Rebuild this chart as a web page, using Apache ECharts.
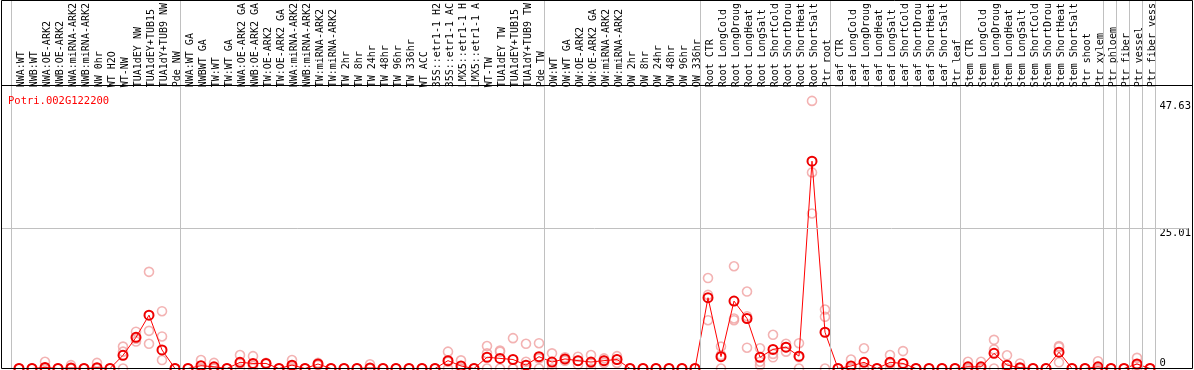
<!DOCTYPE html>
<html><head><meta charset="utf-8">
<script src="https://cdn.jsdelivr.net/npm/echarts@6/dist/echarts.min.js"></script>
<style>html,body{margin:0;padding:0;background:#fff}#c{width:1194px;height:370px}</style>
</head><body><div id="c"></div>
<script>
const chartTitle = 'Potri.002G122200';
const categories = [
  'NWA:WT','NWB:WT','NWA:OE-ARK2','NWB:OE-ARK2','NWA:miRNA-ARK2','NWB:miRNA-ARK2','NW 0hr','WT H2O','WT-NW','TUA1dEY NW','TUA1dEY+TUB15','TUA1dY+TUB9 NW','Pde NW',
  'NWA:WT GA','NWBWT GA','TW:WT','TW:WT GA','NWA:OE-ARK2 GA','NWB:OE-ARK2 GA','TW:OE-ARK2','TW:OE-ARK2 GA','NWA:miRNA-ARK2','NWB:miRNA-ARK2','TW:miRNA-ARK2','TW:miRNA-ARK2',
  'TW 2hr','TW 8hr','TW 24hr','TW 48hr','TW 96hr','TW 336hr','WT ACC','35S::etr1-1 H2','35S::etr1-1 AC','LMX5::etr1-1 H','LMX5::etr1-1 A','WT-TW','TUA1dEY TW','TUA1dEY+TUB15','TUA1dY+TUB9 TW','Pde TW',
  'OW:WT','OW:WT GA','OW:OE-ARK2','OW:OE-ARK2 GA','OW:miRNA-ARK2','OW:miRNA-ARK2','OW 2hr','OW 8hr','OW 24hr','OW 48hr','OW 96hr','OW 336hr',
  'Root CTR','Root LongCold','Root LongDroug','Root LongHeat','Root LongSalt','Root ShortCold','Root ShortDrou','Root ShortHeat','Root ShortSalt','Ptr root',
  'Leaf CTR','Leaf LongCold','Leaf LongDroug','Leaf LongHeat','Leaf LongSalt','Leaf ShortCold','Leaf ShortDrou','Leaf ShortHeat','Leaf ShortSalt','Ptr leaf',
  'Stem CTR','Stem LongCold','Stem LongDroug','Stem LongHeat','Stem LongSalt','Stem ShortCold','Stem ShortDrou','Stem ShortHeat','Stem ShortSalt','Ptr shoot',
  'Ptr xylem','Ptr phloem','Ptr fiber','Ptr vessel','Ptr fiber vess'
];
const meanValues = [
  0,0,0.2,0,0.1,0,0.15,0,2.35,5.55,9.5,3.3,0,
  0,0.5,0.3,0,1.1,0.9,0.9,0,0.6,0,0.8,0,
  0,0,0.1,0,0,0,0,0,1.4,0.45,0,2.0,1.8,1.6,0.6,2.1,
  1.15,1.7,1.4,1.15,1.4,1.6,0,0,0,0,0,0,
  12.6,2.1,12.0,8.9,2.0,3.4,3.8,2.2,36.9,6.45,
  0,0.45,1.1,0,1.1,0.9,0,0,0,0,
  0.3,0.3,2.7,0.6,0.15,0,0,2.9,0,0,
  0.3,0,0,0.8,0
];
const rep1 = [
  0,0,1.2,0,0.6,0,1.0,0,3.9,6.55,17.2,10.2,0,
  0,1.5,1.0,0,2.4,2.2,1.0,0,1.5,0,1.0,0,
  0,0,0.75,0,0,0,0,0,3.0,1.45,0,4.0,3.2,5.4,4.4,4.5,
  2.7,2.0,2.1,2.4,1.8,2.2,0,0,0,0,0,0,
  16.1,3.9,18.2,13.7,3.6,6.0,4.4,4.5,47.63,10.5,
  0,1.6,3.6,0,2.4,3.1,0,0,0,0,
  1.2,1.2,5.1,2.35,0.9,0,0,4.0,0,0,
  1.3,0,0,1.9,0
];
const rep2 = [
  0,0,0,0,0,0,0,0,3.0,5.3,6.7,5.7,0,
  0,0,0,0,0.9,0.5,0.9,0,0.3,0,0.8,0,
  0,0,0,0,0,0,0,0,1.2,0,0,2.7,3.0,0,1.2,1.8,
  0.7,1.7,1.4,1.0,1.4,1.6,0,0,0,0,0,0,
  13.1,2.4,8.9,9.3,1.2,2.6,3.8,2.0,34.9,9.2,
  0,0,0,0,0.9,0,0,0,0,0,
  0,0,3.4,0,0,0,0,3.8,0,0,
  0,0,0,0.6,0
];
const rep3 = [
  0,0,0,0,0,0,0,0,0,4.8,4.4,1.5,0,
  0,0,0,0,0,0,0.8,0,0,0,0.6,0,
  0,0,0,0,0,0,0,0,0,0,0,0,0,0,0,0,
  0,1.4,0.7,0,1.0,1.0,0,0,0,0,0,0,
  8.6,0,8.6,3.7,0.6,2.0,3.0,0,27.6,0,
  0,0,0,0,0,0,0,0,0,0,
  0,0,0,0,0,0,0,1.1,0,0,
  0,0,0,0,0
];
const groupBoundaries = [0,13,41,53,63,73,84,85,86,87,88];
const yTickValues = [0, 25.01, 47.63];
const yGuideValue = 25.01;

const YMAX = 50.46;
const chart = echarts.init(document.getElementById('c'), null, {renderer:'canvas'});
const mono = 'DejaVu Sans Mono';
const repStyle = {color:'rgba(0,0,0,0)', borderColor:'#f0a0a0', borderWidth:1.6};
function repSeries(arr){
  return {type:'scatter', xAxisIndex:0, yAxisIndex:0, data:arr, symbol:'circle', symbolSize:9,
    itemStyle:repStyle, silent:true, z:2};
}
chart.setOption({
  animation:false,
  title:{text:chartTitle, left:3, top:91, textStyle:{color:'#ff0000', fontSize:10.5, fontFamily:mono, fontWeight:'normal'}},
  grid:[
    {left:12.5, top:85, width:1144, height:283.5},
    {left:11.5, top:0, width:1144, height:368.5},
    {left:1, top:85, width:1191.5, height:283.5},
    {left:15, top:85, width:1144, height:283.5}
  ],
  xAxis:[
    {gridIndex:0, type:'category', data:categories, boundaryGap:true, show:false},
    {gridIndex:1, type:'value', min:0, max:88, show:false},
    {gridIndex:2, type:'value', min:0, max:1, show:false},
    {gridIndex:3, type:'category', data:categories, position:'top', boundaryGap:true,
      axisLine:{show:false}, axisTick:{show:false}, splitLine:{show:false},
      axisLabel:{interval:0, rotate:90, fontFamily:mono, fontSize:10, color:'#000', margin:3}}
  ],
  yAxis:[
    {gridIndex:0, type:'value', min:0, max:YMAX, show:false},
    {gridIndex:1, type:'value', min:0, max:1, show:false},
    {gridIndex:2, type:'value', min:0, max:YMAX, position:'right',
      axisLine:{show:false}, axisTick:{show:false}, splitLine:{show:false},
      axisLabel:{inside:true, customValues:yTickValues.filter(v=>v>0), formatter:v=>String(v), align:'left', margin:29,
        verticalAlign:'top', fontFamily:mono, fontSize:10.5, color:'#000'}},
    {gridIndex:2, type:'value', min:0, max:YMAX, position:'right',
      axisLine:{show:false}, axisTick:{show:false}, splitLine:{show:false},
      axisLabel:{inside:true, customValues:yTickValues.filter(v=>v===0), formatter:v=>String(v), align:'left', margin:29,
        verticalAlign:'bottom', fontFamily:mono, fontSize:10.5, color:'#000'}},
    {gridIndex:3, type:'value', min:0, max:1, show:false}
  ],
  graphic:[
    {type:'rect', shape:{x:1.5, y:0.5, width:1191, height:368}, style:{fill:'none', stroke:'#000', lineWidth:1}, z:100},
    {type:'line', shape:{x1:1.5, y1:85.5, x2:1192.5, y2:85.5}, style:{stroke:'#000', lineWidth:1}, z:100}
  ],
  series:[
    {type:'line', xAxisIndex:1, yAxisIndex:1, data:[], silent:true, z:1,
      markLine:{silent:true, symbol:['none','none'], label:{show:false}, animation:false,
        lineStyle:{color:'#c0c0c0', width:1, type:'solid'},
        data:groupBoundaries.map(b=>({xAxis:b}))}},
    {type:'line', xAxisIndex:2, yAxisIndex:2, data:[], silent:true, z:1,
      markLine:{silent:true, symbol:['none','none'], label:{show:false}, animation:false,
        lineStyle:{color:'#c0c0c0', width:1, type:'solid'},
        data:[{yAxis:yGuideValue}]}},
    {type:'scatter', xAxisIndex:3, yAxisIndex:4, data:[], silent:true},
    repSeries(rep1), repSeries(rep2), repSeries(rep3),
    {type:'line', xAxisIndex:0, yAxisIndex:0, data:meanValues, symbol:'circle', symbolSize:9, showAllSymbol:true,
      itemStyle:{color:'rgba(0,0,0,0)', borderColor:'#ee0000', borderWidth:2},
      lineStyle:{color:'#ff0000', width:1}, silent:true, z:3}
  ]
});
</script></body></html>
